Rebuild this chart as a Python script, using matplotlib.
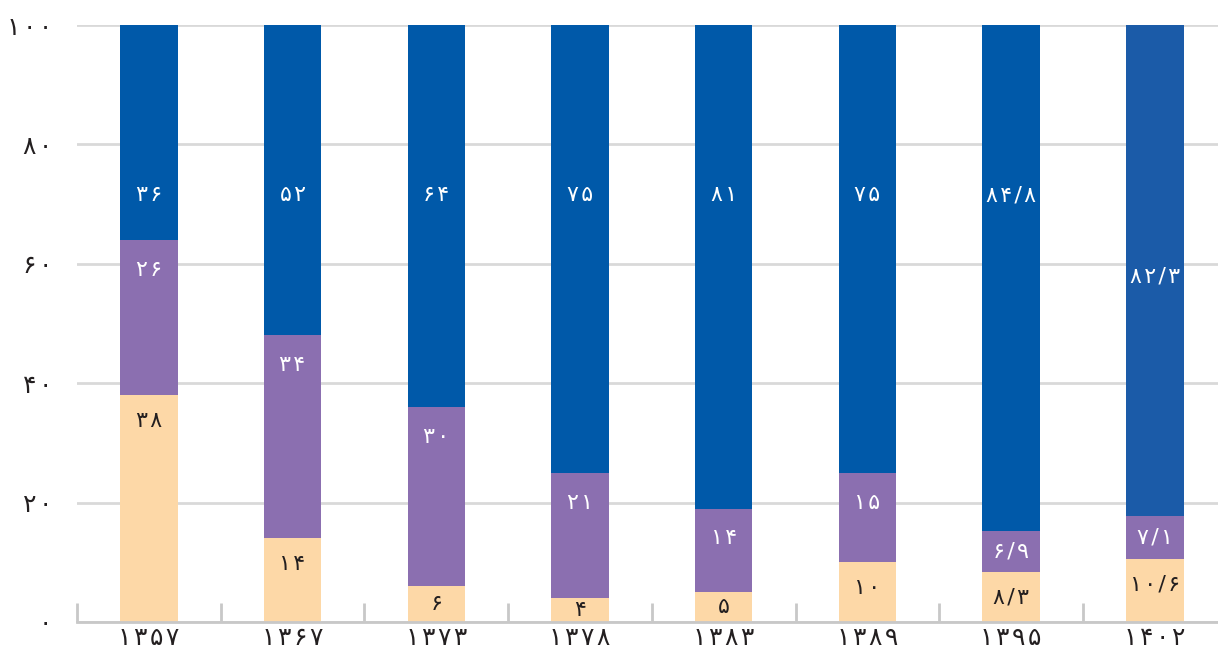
import matplotlib.pyplot as plt
import numpy as np

plt.rcParams['font.family'] = ['DejaVu Sans']

years = [1357, 1367, 1373, 1378, 1383, 1389, 1395, 1402]
bottom_share = [38, 14, 6, 4, 5, 10, 8.3, 10.6]
middle_share = [26, 34, 30, 21, 14, 15, 6.9, 7.1]
top_share = [36, 52, 64, 75, 81, 75, 84.8, 82.3]
y_ticks = [0, 20, 40, 60, 80, 100]

PERSIAN = str.maketrans("0123456789.", "۰۱۲۳۴۵۶۷۸۹/")


def fa(num):
    """format a number with Persian digits, a little spaced out"""
    s = f"{num:g}".translate(PERSIAN)
    return "\u200a".join(s)


c_bottom = "#fdd8a7"
c_middle = "#8b6fb0"
c_top = ["#0059a9"] * 7 + ["#1b5ba8"]
txt_dark = "#231f20"

fig = plt.figure(figsize=(12.18, 6.55), dpi=100)
ax = fig.add_axes([0.0632, 0.0504, 0.9368, 0.9114])

x = np.arange(len(years))
b = np.array(bottom_share, dtype=float)
m = np.array(middle_share, dtype=float)
t = np.array(top_share, dtype=float)
w = 0.4

ax.bar(x, b, w, color=c_bottom, zorder=3)
ax.bar(x, m, w, bottom=b, color=c_middle, zorder=3)
ax.bar(x, t, w, bottom=b + m, color=c_top, zorder=3)

# value labels, near the top of each segment
for i in x:
    y1 = max(b[i] - 4.3, b[i] / 2)
    ax.text(i, y1, fa(bottom_share[i]), ha='center', va='center',
            fontsize=16, color=txt_dark, zorder=4)
    y2 = max(b[i] + m[i] - 5, b[i] + m[i] / 2)
    ax.text(i, y2, fa(middle_share[i]), ha='center', va='center',
            fontsize=16, color='white', zorder=4)
    y3 = 71.5 if i < len(years) - 1 else b[i] + m[i] + t[i] / 2 - 1
    ax.text(i, y3, fa(top_share[i]), ha='center', va='center',
            fontsize=16, color='white', zorder=4)

ax.set_xlim(-0.5, 7.44)
ax.set_ylim(0, 100)
ax.set_yticks(y_ticks)
ax.set_yticklabels([fa(v) for v in y_ticks], fontsize=18, color=txt_dark)
ax.yaxis.grid(True, color='#d9d9d9', linewidth=2, zorder=0)
ax.tick_params(axis='y', length=0, pad=18)

ax.set_xticks(x)
ax.set_xticklabels([fa(v) for v in years], fontsize=18, color=txt_dark)
ax.set_xticks(np.arange(-0.5, 7.5, 1), minor=True)
ax.tick_params(axis='x', which='major', length=0, pad=3)
ax.tick_params(axis='x', which='minor', direction='in', length=14,
               width=2, color='#c8c8c8')

for side in ['top', 'right', 'left']:
    ax.spines[side].set_visible(False)
ax.spines['bottom'].set_color('#c8c8c8')
ax.spines['bottom'].set_linewidth(2)
ax.spines['bottom'].set_zorder(5)

plt.savefig("out.png", dpi=100)
